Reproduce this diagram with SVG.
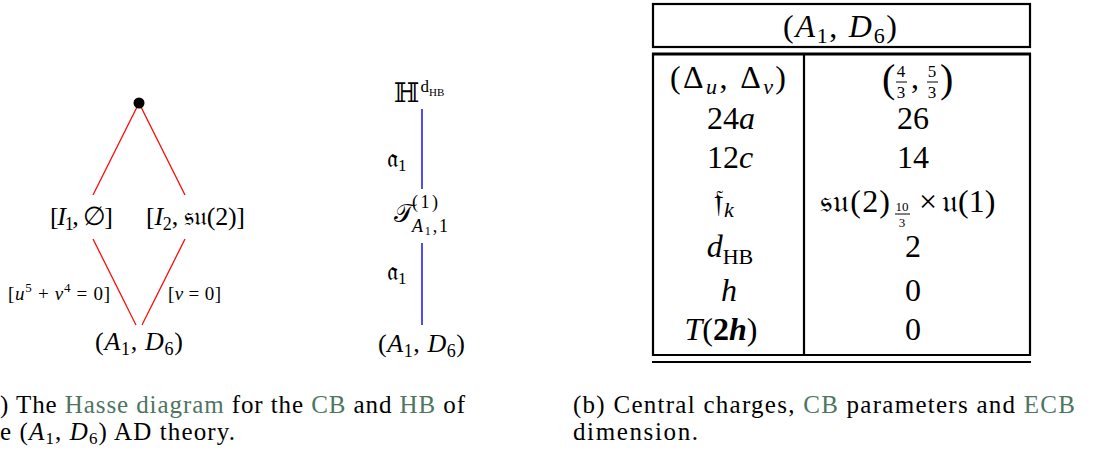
<svg xmlns="http://www.w3.org/2000/svg" width="1110" height="454" viewBox="0 0 1110 454">
<style>
text{font-family:"Liberation Serif","DejaVu Serif",serif;fill:#000}
.m{font-size:26px}
.sm{font-size:19px}
.t{font-size:32px}
.cap{font-size:25px}
.i{font-style:italic}
.fk{font-family:"DejaVu Sans","Noto Sans","Liberation Serif",serif}
.ds{font-family:"DejaVu Serif","DejaVu Sans",serif}
.lnk{fill:#4d7561}
.red{stroke:#ff0000;stroke-width:1.2}
.blue{stroke:#0000ff;stroke-width:1.4}
.rule{stroke:#000;stroke-width:2.2}
.bar{stroke:#000;stroke-width:1}
</style>
<rect width="1110" height="454" fill="#fff"/>

<!-- Hasse diagram (CB) -->
<g id="cb-connectors">
<line class="red" x1="139" y1="103" x2="93" y2="195"/>
<line class="red" x1="139" y1="103" x2="185" y2="195"/>
<line class="red" x1="93" y1="239" x2="136" y2="325"/>
<line class="red" x1="185" y1="239" x2="142" y2="325"/>
<text class="sm" x="8" y="300" textLength="102">[<tspan class="i">u</tspan><tspan dy="-8" font-size="13">5</tspan><tspan dy="8"> + </tspan><tspan class="i">v</tspan><tspan dy="-8" font-size="13">4</tspan><tspan dy="8"> = 0]</tspan></text>
<text class="sm" x="168" y="300" textLength="53">[<tspan class="i">v</tspan> = 0]</text>
</g>
<g id="cb-top"><circle cx="139" cy="103" r="5.5" fill="#000"/></g>
<g id="cb-I1"><text class="m" x="50" y="225" textLength="63">[<tspan class="i">I</tspan><tspan dy="5" font-size="18">1</tspan><tspan dy="-5">, ∅]</tspan></text></g>
<g id="cb-I2"><text class="m" x="146" y="225" textLength="99">[<tspan class="i">I</tspan><tspan dy="5" font-size="18">2</tspan><tspan dy="-5">, </tspan><tspan class="fk">𝔰𝔲</tspan>(2)]</text></g>
<g id="cb-A1D6"><text class="m" x="95" y="350" textLength="88">(<tspan class="i">A</tspan><tspan dy="5" font-size="18">1</tspan><tspan dy="-5">, </tspan><tspan class="i">D</tspan><tspan dy="5" font-size="18">6</tspan><tspan dy="-5">)</tspan></text></g>

<!-- Hasse diagram (HB) -->
<g id="hb-connectors">
<line class="blue" x1="422" y1="109" x2="422" y2="189"/>
<line class="blue" x1="422" y1="243" x2="422" y2="325"/>
<text class="m" x="387" y="167"><tspan class="fk">𝔞</tspan><tspan dy="4" font-size="17">1</tspan></text>
<text class="m" x="387" y="280"><tspan class="fk">𝔞</tspan><tspan dy="4" font-size="17">1</tspan></text>
</g>
<g id="hb-H">
<text x="394" y="102" font-size="27"><tspan class="ds">ℍ</tspan><tspan dy="-10" dx="1" font-size="17">d</tspan><tspan dy="4" font-size="11">HB</tspan></text>
</g>
<g id="hb-T">
<text class="m fk" x="394" y="222">𝒯</text>
<text x="412" y="208" font-size="18" textLength="26">(1)</text>
<text x="412" y="232" font-size="18" textLength="36"><tspan class="i">A</tspan><tspan dy="3" font-size="12">1</tspan><tspan dy="-3">,1</tspan></text>
</g>
<g id="hb-A1D6"><text class="m" x="378" y="352" textLength="87">(<tspan class="i">A</tspan><tspan dy="5" font-size="18">1</tspan><tspan dy="-5">, </tspan><tspan class="i">D</tspan><tspan dy="5" font-size="18">6</tspan><tspan dy="-5">)</tspan></text></g>

<!-- Table -->
<g id="table">
<rect x="653" y="4" width="377" height="43" fill="none" class="rule"/>
<text class="t" x="783" y="37" textLength="114">(<tspan class="i">A</tspan><tspan dy="6" font-size="22">1</tspan><tspan dy="-6">, </tspan><tspan class="i">D</tspan><tspan dy="6" font-size="22">6</tspan><tspan dy="-6">)</tspan></text>
<line class="rule" x1="652" y1="54" x2="1031" y2="54" style="stroke-width:3"/>
<line class="rule" x1="653" y1="53" x2="653" y2="356"/>
<line class="rule" x1="1030" y1="53" x2="1030" y2="356"/>
<line class="rule" x1="804" y1="54" x2="804" y2="355"/>
<line class="rule" x1="652" y1="355" x2="1031" y2="355"/>
<line class="rule" x1="652" y1="362" x2="1031" y2="362"/>

<text class="t" x="670" y="88" textLength="116">(Δ<tspan dy="6" font-size="22" class="i">u</tspan><tspan dy="-6">, Δ</tspan><tspan dy="6" font-size="22" class="i">v</tspan><tspan dy="-6">)</tspan></text>
<text class="t" x="731" y="129" text-anchor="middle">24<tspan class="i">a</tspan></text>
<text class="t" x="730" y="168" text-anchor="middle">12<tspan class="i">c</tspan></text>
<text class="t" x="724" y="212" text-anchor="middle"><tspan class="fk">𝔣</tspan><tspan dy="5" font-size="22" class="i">k</tspan></text>
<text class="t" x="730" y="257" text-anchor="middle"><tspan class="i">d</tspan><tspan dy="7" font-size="22">HB</tspan></text>
<text class="t" x="729" y="301" text-anchor="middle"><tspan class="i">h</tspan></text>
<text class="t" x="721" y="340" text-anchor="middle"><tspan class="i">T</tspan>(<tspan font-weight="bold">2</tspan><tspan font-weight="bold" class="i">h</tspan>)</text>

<!-- (4/3, 5/3) -->
<text x="882" y="92" font-size="40">(</text>
<text x="901" y="77" font-size="17" text-anchor="middle">4</text>
<line class="bar" x1="896" y1="82" x2="907" y2="82"/>
<text x="901" y="98" font-size="17" text-anchor="middle">3</text>
<text class="t" x="911" y="88">,</text>
<text x="932" y="77" font-size="17" text-anchor="middle">5</text>
<line class="bar" x1="927" y1="82" x2="938" y2="82"/>
<text x="932" y="98" font-size="17" text-anchor="middle">3</text>
<text x="940" y="92" font-size="40">)</text>

<text class="t" x="913" y="129" text-anchor="middle">26</text>
<text class="t" x="913" y="168" text-anchor="middle">14</text>
<text class="t" x="820" y="212" textLength="70"><tspan class="fk">𝔰𝔲</tspan>(2)</text>
<text x="902" y="211" font-size="13" text-anchor="middle">10</text>
<line class="bar" x1="895" y1="214" x2="910" y2="214"/>
<text x="902" y="227" font-size="13" text-anchor="middle">3</text>
<text class="t" x="919" y="212">×</text>
<text class="t" x="942" y="212"><tspan class="fk">𝔲</tspan>(1)</text>
<text class="t" x="913" y="257" text-anchor="middle">2</text>
<text class="t" x="913" y="301" text-anchor="middle">0</text>
<text class="t" x="913" y="340" text-anchor="middle">0</text>
</g>

<!-- Captions -->
<text class="cap" x="0" y="413" textLength="465">) The <tspan class="lnk">Hasse diagram</tspan> for the <tspan class="lnk">CB</tspan> and <tspan class="lnk">HB</tspan> of</text>
<text class="cap" x="0" y="440" textLength="235">e (<tspan class="i">A</tspan><tspan dy="4" font-size="17">1</tspan><tspan dy="-4">, </tspan><tspan class="i">D</tspan><tspan dy="4" font-size="17">6</tspan><tspan dy="-4">) AD theory.</tspan></text>
<text class="cap" x="573" y="413" textLength="502">(b) Central charges, <tspan class="lnk">CB</tspan> parameters and <tspan class="lnk">ECB</tspan></text>
<text class="cap" x="573" y="440" textLength="125">dimension.</text>
</svg>
